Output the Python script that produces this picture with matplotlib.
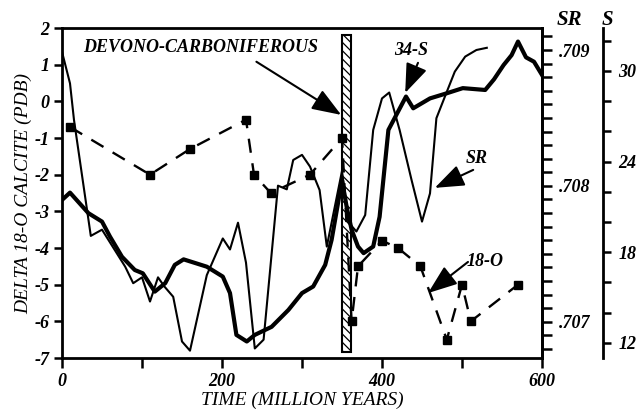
import matplotlib
matplotlib.use("Agg")
import matplotlib.pyplot as plt
from matplotlib.ticker import FixedLocator, MultipleLocator, FixedFormatter

plt.rcParams['font.family'] = ['Liberation Serif', 'DejaVu Serif']
plt.rcParams['font.weight'] = 'bold'
plt.rcParams['font.style'] = 'italic'
plt.rcParams['axes.unicode_minus'] = False
plt.rcParams['hatch.linewidth'] = 0.9

# Sr isotope curve (thin line), plotted in delta 18-O units
sr_time = [0, 10, 15, 36, 50, 79, 89, 100, 110, 120, 128, 139, 150, 160, 181, 201, 210, 220,
           230, 241, 252, 270, 281, 289, 300, 310, 322, 331, 350, 358, 368, 379, 389, 400,
           409, 422, 437, 450, 460, 468, 481, 491, 504, 518, 531]
sr_val = [1.35, 0.49, -0.51, -3.67, -3.5, -4.51, -4.96, -4.8, -5.46, -4.8, -5.05, -5.33, -6.55,
          -6.8, -4.74, -3.74, -4.04, -3.31, -4.4, -6.74, -6.5, -2.3, -2.4, -1.6, -1.46, -1.78,
          -2.42, -3.96, -1.9, -3.3, -3.55, -3.1, -0.78, 0.08, 0.24, -0.78, -2.15, -3.28, -2.51,
          -0.46, 0.26, 0.81, 1.22, 1.4, 1.46]

# 34-S curve (thick line)
s_time = [0, 10, 33, 50, 60, 75, 91, 101, 116, 129, 141, 152, 168, 181, 201, 210, 218, 231,
          241, 262, 283, 300, 314, 329, 337, 350, 356, 362, 370, 377, 389, 397, 408, 430, 439,
          460, 481, 501, 529, 540, 552, 562, 570, 580, 590, 600]
s_val = [-2.69, -2.49, -3.05, -3.28, -3.69, -4.24, -4.6, -4.69, -5.19, -4.96, -4.46, -4.31,
         -4.42, -4.51, -4.78, -5.23, -6.37, -6.55, -6.37, -6.15, -5.69, -5.23, -5.05, -4.46,
         -3.78, -2.15, -2.9, -3.5, -3.96, -4.14, -3.96, -3.15, -0.78, 0.13, -0.19, 0.08, 0.22,
         0.36, 0.31, 0.6, 0.99, 1.26, 1.63, 1.2, 1.08, 0.72]

# 18-O points (dashed with squares)
o_time = [10, 110, 160, 230, 240, 261, 310, 350, 362, 370, 400, 420, 448, 481, 500, 511, 570]
o_val = [-0.7, -2.0, -1.3, -0.5, -2.0, -2.5, -2.0, -1.0, -6.0, -4.5, -3.8, -4.0, -4.5, -6.5,
         -5.0, -6.0, -5.0]

# Devono-Carboniferous boundary band
band_start, band_end = 350, 361
band_low, band_high = -6.83, 1.81

fig = plt.figure(figsize=(6.38, 4.15), dpi=100)
ax = fig.add_axes([62/638, 1-358/415, 480/638, 330/415])

ax.bar((band_start+band_end)/2, band_high-band_low, bottom=band_low, width=band_end-band_start,
       facecolor='white', edgecolor='black', hatch='\\\\\\\\', lw=1.5, zorder=1)

ax.plot(sr_time, sr_val, color='black', lw=1.5, zorder=3)
ax.plot(s_time, s_val, color='black', lw=3.0, zorder=3)
ax.plot(o_time, o_val, color='black', lw=1.7, ls=(0, (6, 4.5)), marker='s', ms=6, zorder=4)

ax.set_xlim(0, 600)
ax.set_ylim(-7, 2)
ax.xaxis.set_major_locator(FixedLocator([0, 200, 400, 600]))
ax.xaxis.set_minor_locator(MultipleLocator(100))
ax.yaxis.set_major_locator(MultipleLocator(1))
ax.tick_params(axis='both', which='both', direction='out', width=1.8, labelsize=13)
ax.tick_params(axis='x', which='both', length=7, pad=4)
ax.tick_params(axis='y', length=6, pad=3)
for sp in ax.spines.values():
    sp.set_linewidth(2)

ax.set_xlabel("TIME (MILLION YEARS)", fontsize=14, labelpad=1)
ax.set_ylabel("DELTA 18-O CALCITE (PDB)", fontsize=14, labelpad=2)

# SR axis
ax2 = ax.twinx()
ax2.set_ylim(0.706733, 0.709162)
ax2.yaxis.set_major_locator(FixedLocator([0.707, 0.708, 0.709]))
ax2.yaxis.set_major_formatter(FixedFormatter(['.707', '.708', '.709']))
ax2.yaxis.set_minor_locator(MultipleLocator(0.0001))
ax2.tick_params(axis='y', which='both', direction='out', length=7, width=1.8, labelsize=13, pad=5)
for k in ['left', 'top', 'bottom']:
    ax2.spines[k].set_visible(False)
ax2.spines['right'].set_linewidth(2)

# S axis
ax3 = ax.twinx()
ax3.set_ylim(10.99, 32.84)
ax3.spines['right'].set_position(('outward', 44))
ax3.yaxis.set_major_locator(FixedLocator([12, 18, 24, 30]))
ax3.yaxis.set_minor_locator(MultipleLocator(2))
ax3.tick_params(axis='y', which='both', direction='out', length=6, width=1.8, labelsize=13, pad=5)
for k in ['left', 'top', 'bottom']:
    ax3.spines[k].set_visible(False)
ax3.spines['right'].set_linewidth(2)

fig.text(569/638, 1-20/415, "SR", fontsize=15, ha='center', va='center')
fig.text(607/638, 1-20/415, "S", fontsize=15, ha='center', va='center')

arrow = dict(arrowstyle='-|>,head_length=1.2,head_width=0.45', lw=1.5, color='black',
             mutation_scale=15, shrinkA=0, shrinkB=0)

ax.text(26, 1.48, "DEVONO-CARBONIFEROUS", fontsize=13, ha='left', va='center')
ax.annotate('', xy=(349, -0.37), xytext=(243, 1.08), arrowprops=arrow)

ax.text(437, 1.4, "34-S", fontsize=13, ha='center', va='center')
ax.annotate('', xy=(429, 0.23), xytext=(445, 1.05), arrowprops=arrow)

ax.text(518, -1.57, "SR", fontsize=13, ha='center', va='center')
ax.annotate('', xy=(466, -2.36), xytext=(514, -1.87), arrowprops=arrow)

ax.text(529, -4.37, "18-O", fontsize=13, ha='center', va='center')
ax.annotate('', xy=(457.5, -5.23), xytext=(507.5, -4.38), arrowprops=arrow)

fig.savefig("out.png", dpi=100)
